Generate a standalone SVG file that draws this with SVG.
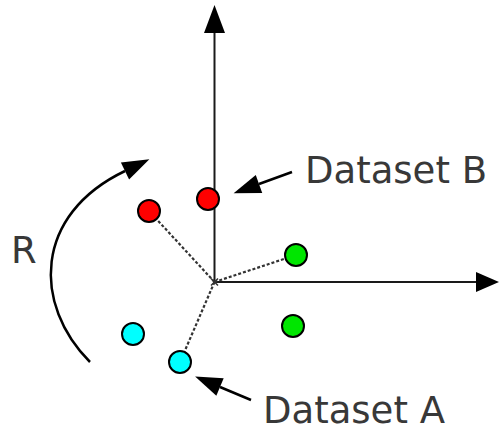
<svg xmlns="http://www.w3.org/2000/svg" width="499" height="432" viewBox="0 0 499 432">
  <style>
    .axis { stroke: #1a1a1a; stroke-width: 2; fill: none; }
    .head { fill: #000; stroke: none; }
    .ptr { stroke: #000; stroke-width: 2.5; fill: none; }
    .dot { stroke: #333; stroke-width: 2.2; stroke-dasharray: 3 2; fill: none; }
    .pt { stroke: #000; stroke-width: 2; }
    .red { fill: #ff0000; }
    .cyan { fill: #00ffff; }
    .green { fill: #00e600; }
    .lbl { font-family: "DejaVu Sans", sans-serif; font-size: 37px; fill: #383838; }
  </style>
  <defs>
    <marker id="phead" markerUnits="userSpaceOnUse" markerWidth="40" markerHeight="40" refX="0" refY="9.5" orient="auto" overflow="visible">
      <path d="M0,0 L27,9.5 L0,19 z" fill="#000"/>
    </marker>
  </defs>

  <g id="connectors">
    <line class="axis" x1="214.5" y1="282" x2="214.5" y2="33"/>
    <polygon class="head" points="204,33 214.5,5 225,33"/>
    <line class="axis" x1="214" y1="282" x2="477" y2="282"/>
    <polygon class="head" points="476,272 499,282 476,292"/>
    <line class="dot" x1="214.5" y1="282" x2="149" y2="211"/>
    <line class="dot" x1="214.5" y1="282" x2="296" y2="255"/>
    <line class="dot" x1="214.5" y1="282" x2="180" y2="362"/>
    <line class="ptr" x1="292" y1="172" x2="259" y2="184" marker-end="url(#phead)"/>
    <line class="ptr" x1="251" y1="400" x2="220" y2="387" marker-end="url(#phead)"/>
    <path class="ptr" d="M90,362 C33,305 33,215 125,171" marker-end="url(#phead)"/>
  </g>

  <g id="origin">
    <path d="M211,278.5 L218,285.5 M218,278.5 L211,285.5" stroke="#333" stroke-width="1.5"/>
  </g>

  <g id="datasetB">
    <circle class="pt red" cx="149" cy="211" r="11"/>
    <circle class="pt red" cx="208" cy="199" r="11"/>
  </g>
  <g id="datasetA">
    <circle class="pt cyan" cx="133" cy="334" r="11"/>
    <circle class="pt cyan" cx="180" cy="362" r="11"/>
  </g>
  <g id="green">
    <circle class="pt green" cx="296" cy="255" r="11"/>
    <circle class="pt green" cx="293" cy="326" r="11"/>
  </g>

  <g id="labels">
    <text class="lbl" x="305" y="183">Dataset B</text>
    <text class="lbl" x="263" y="423">Dataset A</text>
    <text class="lbl" x="11" y="263">R</text>
  </g>
</svg>
